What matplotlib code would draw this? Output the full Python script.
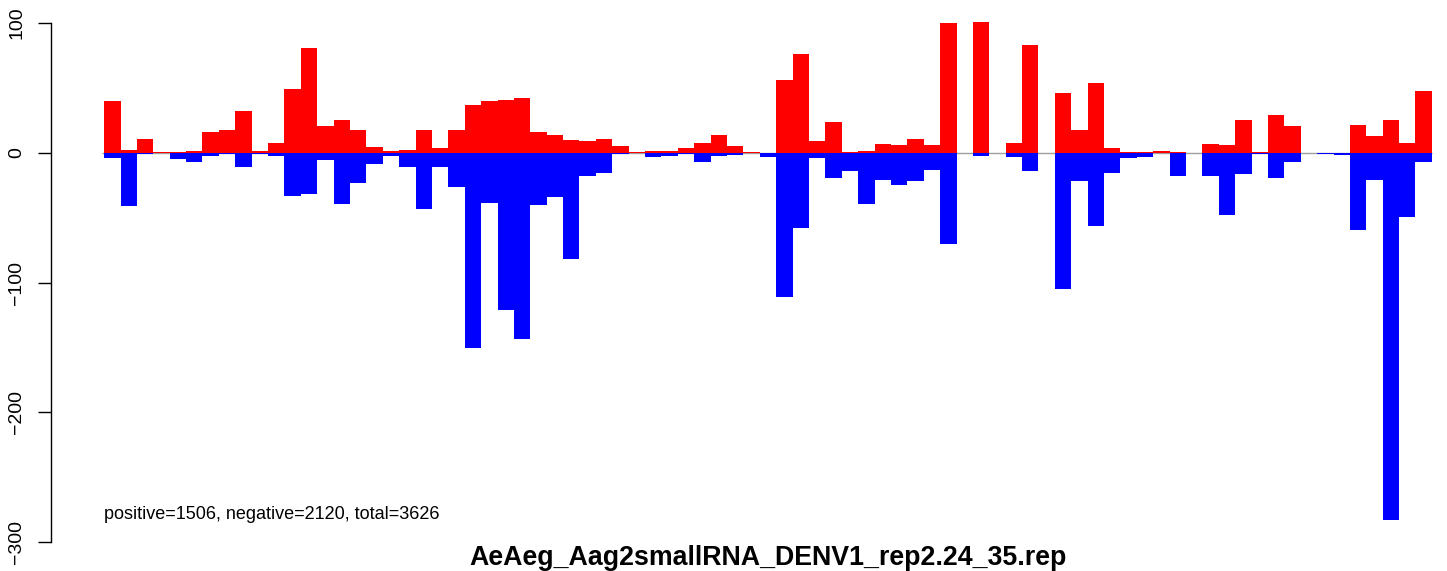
import matplotlib
matplotlib.use('Agg')
import matplotlib.pyplot as plt
import numpy as np

# counts per bin, sense (positive) and antisense (negative) reads
pos_counts = [40, 2, 11, 1, 1, 1.5, 16, 17.5, 32, 1.5, 8, 49, 81, 20.5, 25, 18, 4.5, 1.5, 2, 17.5,
              3.5, 17.5, 37, 40, 41, 42, 16.5, 14, 10, 9, 11, 5, 1, 1.5, 1.5, 3.5, 8, 13.5, 5, 0.5,
              0, 56.5, 76, 9, 23.5, 1, 1.5, 6.5, 6, 10.5, 6, 100, 0, 101, 0, 7.5, 83.5, 0, 46, 17.5,
              54, 3.5, 0.5, 1, 1.5, 1, 0, 6.5, 6, 25, 1, 29, 20.5, 0, 0, 0, 21.5, 13, 25, 8, 48]
neg_counts = [-4, -41, -0.5, 0, -5, -7, -2.5, -1, -11, -1, -2, -33, -32, -5.5, -39, -23, -8.5, -2, -11, -43,
              -11, -26, -150, -38.5, -121, -143, -40, -34, -81.5, -18, -15.5, -0.5, 0, -3, -2, -0.5, -7, -2.5, -1.5, 0,
              -3, -111, -58, -4, -19.5, -14, -39.5, -21, -25, -21.5, -13, -70, 0, -2.5, 0, -3, -14, 0, -105, -22,
              -56.5, -15.5, -4, -3, 0, -18, 0, -18, -48, -16.5, -0.5, -19, -7, 0, -0.5, -1.5, -59.5, -21, -282.5, -49.5, -7]
y_ticks = [-300, -200, -100, 0, 100]
summary = 'positive=1506, negative=2120, total=3626'
title = 'AeAeg_Aag2smallRNA_DENV1_rep2.24_35.rep'

plt.rcParams['font.family'] = ['Liberation Sans', 'DejaVu Sans']

W, H = 1447, 571
fig = plt.figure(figsize=(W / 100, H / 100), dpi=100)
# plot region like R barplot: spills past the right edge of the picture
ax = fig.add_axes([51 / W, (H - 563) / H, 1434 / W, 560.6 / H])

n = len(pos_counts)
x = np.arange(n)
ax.hlines(0, -0.1, n, color='#A0A0A0', lw=1.0, zorder=1)
ax.bar(x, pos_counts, width=1.0, align='edge', color='#FF0000', linewidth=0, zorder=2)
ax.bar(x, neg_counts, width=1.0, align='edge', color='#0000FF', linewidth=0, zorder=2)

ax.set_xlim(-0.04 * n, 1.04 * n)
ax.set_ylim(-316, 116)
for s in ['top', 'right', 'bottom']:
    ax.spines[s].set_visible(False)
ax.spines['left'].set_bounds(-300, 100)
ax.spines['left'].set_linewidth(1.0)
ax.set_xticks([])
ax.set_yticks(y_ticks)
ax.set_yticklabels([str(t).replace('-', '\u2212') for t in y_ticks], rotation=90, va='center', fontsize=14)
ax.tick_params(axis='y', direction='out', length=9.5, width=1.0, pad=9)

ax.text(0, -279, summary, ha='left', va='center', fontsize=13)
fig.text(768 / W, (H - 565) / H, title, ha='center', va='baseline', fontsize=19.3, fontweight='bold')

fig.savefig('out.png', dpi=100)
